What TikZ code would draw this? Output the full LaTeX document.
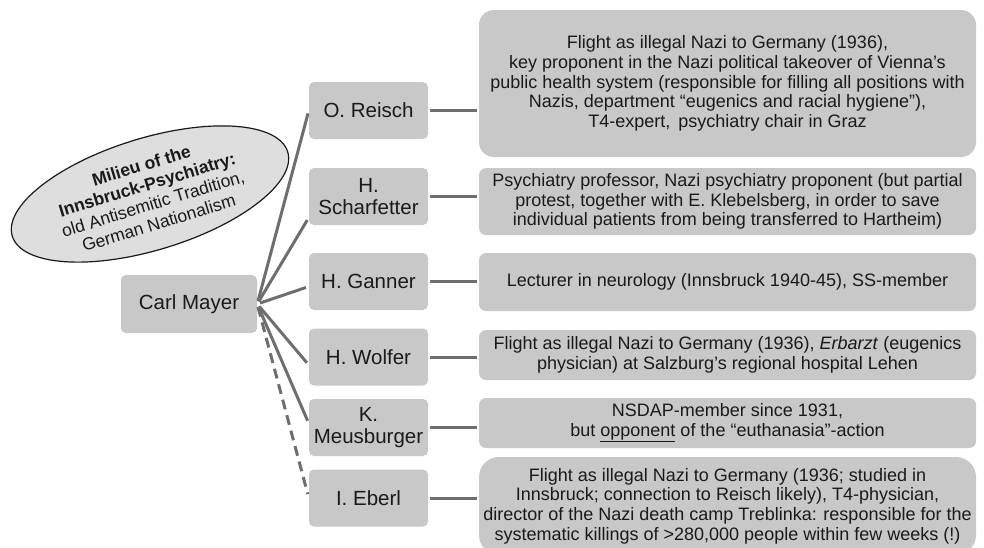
\documentclass[tikz,border=0pt]{standalone}
\usepackage{fontspec}
\setmainfont{Liberation Sans}
\usetikzlibrary{shapes.geometric}
\definecolor{boxgray}{HTML}{C8C8C8}
\definecolor{ellgray}{HTML}{DEDEDE}
\definecolor{linegray}{HTML}{6E6E6E}
\definecolor{txtgray}{HTML}{1A1A1A}

\begin{document}
\begin{tikzpicture}[x=1pt,y=-1pt,
  namebox/.style={fill=boxgray,rounded corners=5pt,minimum width=119pt,minimum height=57pt,inner sep=2pt,align=center,text=txtgray,font=\fontsize{20.5}{22}\selectfont},
  descbox/.style={fill=boxgray,rounded corners=7pt,minimum width=497pt,inner xsep=3pt,align=center,text=txtgray,font=\fontsize{18}{19.7}\selectfont},
  link/.style={draw=linegray,line width=3pt}]
  \useasboundingbox (0,0) rectangle (984,547);
  \clip (0,0) rectangle (984,547);
  \node[ellipse,draw=txtgray,line width=1.2pt,fill=ellgray,rotate=17,minimum width=288pt,minimum height=112pt,inner sep=0pt,align=center,text=txtgray,font=\fontsize{17.5}{20}\selectfont] (milieu) at (150,194) {\textbf{Milieu of the}\\\textbf{Innsbruck-Psychiatry:}\\old Antisemitic Tradition,\\German Nationalism};
  \node[namebox,minimum width=136pt,minimum height=58pt] (carl) at (189,304) {Carl Mayer};
  \node[namebox] (reisch) at (368.5,110.5) {O. Reisch};
  \node[namebox] (scharf) at (368.5,196.5) {H.\\Scharfetter};
  \node[namebox] (ganner) at (368.5,281.5) {H. Ganner};
  \node[namebox] (wolfer) at (368.5,357) {H. Wolfer};
  \node[namebox] (meus) at (368.5,427.5) {K.\\Meusburger};
  \node[namebox] (eberl) at (368.5,498) {I. Eberl};
  \node[descbox,rounded corners=15pt,minimum height=147pt] (reisch-txt) at (727.5,83.5) {Flight as illegal Nazi to Germany (1936),\\key proponent in the Nazi political takeover of Vienna’s\\public health system (responsible for filling all positions with\\Nazis, department “eugenics and racial hygiene”),\\T4-expert,\, psychiatry chair in Graz};
  \node[descbox,minimum height=67pt] (scharf-txt) at (727.5,201.5) {Psychiatry professor, Nazi psychiatry proponent (but partial\\protest, together with E. Klebelsberg, in order to save\\individual patients from being transferred to Hartheim)};
  \node[descbox,minimum height=58pt] (ganner-txt) at (727.5,282) {Lecturer in neurology (Innsbruck 1940-45), SS-member};
  \node[descbox,minimum height=50pt] (wolfer-txt) at (727.5,355) {Flight as illegal Nazi to Germany (1936), \textit{Erbarzt} (eugenics\\physician) at Salzburg’s regional hospital Lehen};
  \node[descbox,minimum height=50pt] (meus-txt) at (727.5,423) {NSDAP-member since 1931,\\but \underline{opponent} of the “euthanasia”-action};
  \node[descbox,rounded corners=20pt,minimum height=98pt] (eberl-txt) at (727.5,506) {Flight as illegal Nazi to Germany (1936; studied in\\Innsbruck; connection to Reisch likely), T4-physician,\\director of the Nazi death camp Treblinka: responsible for the\\systematic killings of >280,000 people within few weeks (!)};
  \foreach \n/\dy in {reisch/0,scharf/-21,ganner/-5,wolfer/-8,meus/4}
    \draw[link,shorten <=3pt,shorten >=3pt] (carl.east) -- ([yshift=\dy pt]\n.west);
  \draw[link,dash pattern=on 10pt off 6pt,shorten <=3pt,shorten >=4pt] (carl.east) -- (eberl.west);
  \foreach \n in {reisch,scharf,ganner,wolfer,meus,eberl}
    \draw[link,shorten <=2pt,shorten >=2pt] (\n.east) -- (\n.east -| \n-txt.west);
\end{tikzpicture}
\end{document}
